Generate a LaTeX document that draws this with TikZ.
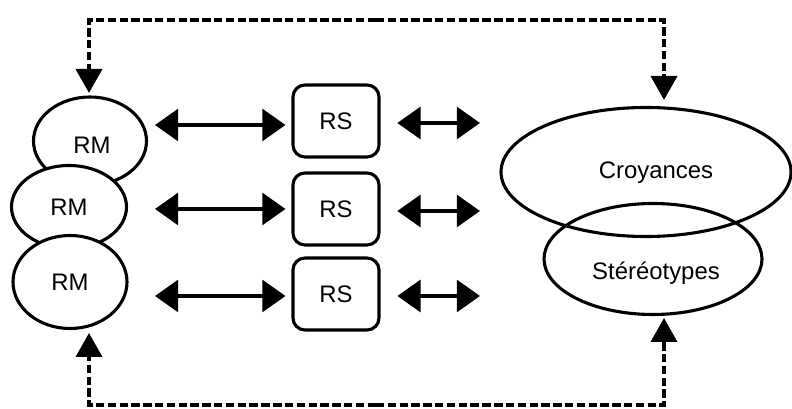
\documentclass[tikz,border=0pt]{standalone}
\usepackage{fontspec}
\setmainfont{Liberation Sans}
\usetikzlibrary{shapes.geometric, arrows.meta, positioning}

\begin{document}
\begin{tikzpicture}[
    rmnode/.style={ellipse, draw, line width=2.2pt, fill=white, inner sep=0pt, font=\fontsize{17}{20}\selectfont},
    rsbox/.style={rectangle, draw, line width=2.2pt, rounded corners=0.3cm, minimum width=2.15cm, minimum height=1.8cm, font=\fontsize{17}{20}\selectfont},
    bigell/.style={ellipse, draw, line width=2.2pt, inner sep=0pt, font=\fontsize{17}{20}\selectfont},
    dbl/.style={{Triangle[length=0.58cm, width=0.8cm]}-{Triangle[length=0.58cm, width=0.8cm]}, line width=2.2pt},
    feedback/.style={-{Triangle[length=0.6cm, width=0.65cm]}, line width=2.6pt, dash pattern=on 6pt off 2.4pt}
]
\useasboundingbox (0,0) rectangle (19.8,10.225);

% Representations mentales
\node[rmnode, minimum width=2.825cm, minimum height=2.2cm] (rm1) at (2.25,6.7) {};
\node[font=\fontsize{17}{20}\selectfont] at (2.3,6.6) {RM};
\node[rmnode, minimum width=2.875cm, minimum height=2.075cm] (rm2) at (1.725,5.05) {RM};
\node[rmnode, minimum width=2.85cm, minimum height=2.325cm] (rm3) at (1.75,3.175) {RM};

% Representations sociales
\node[rsbox] (rs1) at (8.4,7.2) {RS};
\node[rsbox] (rs2) at (8.4,5.0) {RS};
\node[rsbox] (rs3) at (8.4,2.875) {RS};

% Croyances et stereotypes
\node[bigell, minimum width=7.25cm, minimum height=3.225cm] (croyances) at (16.15,5.925) {};
\node[font=\fontsize{17}{20}\selectfont] at (16.4,5.9) {Croyances};
\node[bigell, minimum width=5.45cm, minimum height=2.775cm] (stereo) at (16.325,3.75) {};
\node[font=\fontsize{17}{20}\selectfont] at (16.4,3.4) {Stéréotypes};

% Free ends of the double arrows
\coordinate (l1) at (3.875,7.1);
\coordinate (l2) at (3.875,5.0);
\coordinate (l3) at (3.875,2.825);
\coordinate (r1) at (12.0,7.15);
\coordinate (r2) at (12.0,4.95);
\coordinate (r3) at (12.0,2.825);

\draw[dbl, shorten >=0.15cm] (l1) -- (rs1.west |- l1);
\draw[dbl, shorten >=0.15cm] (l2) -- (rs2.west |- l2);
\draw[dbl, shorten >=0.15cm] (l3) -- (rs3.west |- l3);
\draw[dbl, shorten <=0.42cm] (rs1.east |- r1) -- (r1);
\draw[dbl, shorten <=0.42cm] (rs2.east |- r2) -- (r2);
\draw[dbl, shorten <=0.42cm] (rs3.east |- r3) -- (r3);

% Feedback loops
\coordinate (topl) at (2.225,7.9);
\coordinate (topr) at (16.6,7.725);
\coordinate (botl) at (2.225,1.9);
\coordinate (botr) at (16.6,2.275);
\coordinate (topmid) at (9.4,9.725);
\coordinate (botmid) at (9.4,0.1);

\draw[feedback] (topmid) -| (topl);
\draw[feedback] (topmid) -| (topr);
\draw[feedback] (botmid) -| (botl);
\draw[feedback] (botmid) -| (botr);

\end{tikzpicture}
\end{document}
